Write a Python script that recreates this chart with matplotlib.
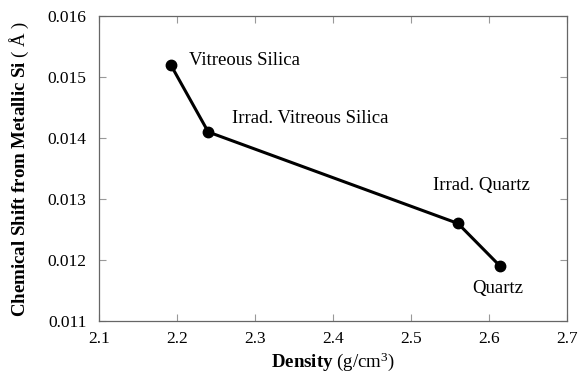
import matplotlib
matplotlib.use("Agg")
import matplotlib.pyplot as plt

density = [2.192, 2.24, 2.56, 2.614]
shift = [0.0152, 0.0141, 0.0126, 0.0119]
names = ["Vitreous Silica", "Irrad. Vitreous Silica", "Irrad. Quartz", "Quartz"]
label_offsets = [(13, 3), (17, 10), (-18, 27), (-20, -16)]
x_ticks = [2.1, 2.2, 2.3, 2.4, 2.5, 2.6, 2.7]
y_ticks = [0.011, 0.012, 0.013, 0.014, 0.015, 0.016]

plt.rcParams["font.family"] = ["Liberation Serif", "DejaVu Serif"]
plt.rcParams["mathtext.fontset"] = "custom"
plt.rcParams["mathtext.rm"] = "Liberation Serif"
plt.rcParams["mathtext.bf"] = "Liberation Serif:bold"
plt.rcParams["mathtext.it"] = "Liberation Serif:italic"

fig = plt.figure(figsize=(5.78, 3.75), dpi=100)
ax = fig.add_axes([0.1713, 0.144, 0.81, 0.813])

ax.plot(density, shift, color="black", lw=2.2, marker="o", ms=7.5, zorder=3)

for x, y, name, off in zip(density, shift, names, label_offsets):
    ax.annotate(name, (x, y), xytext=off, textcoords="offset points",
                ha="left", va="center", fontsize=13.5)

ax.set_xlim(x_ticks[0], x_ticks[-1])
ax.set_ylim(y_ticks[0], y_ticks[-1])
ax.set_xticks(x_ticks)
ax.set_yticks(y_ticks)
ax.set_xticklabels([f"{t:.1f}" for t in x_ticks])
ax.set_yticklabels([f"{t:.3f}" for t in y_ticks])

ax.tick_params(direction="in", top=True, right=True, length=5, width=0.8,
               color="#999999", labelsize=12.5)
ax.tick_params(axis="y", pad=9)
ax.tick_params(axis="x", pad=7)
for s in ax.spines.values():
    s.set_color("#666666")
    s.set_linewidth(0.9)

ax.set_xlabel(r"$\mathbf{Density}\ \mathrm{(g/cm^3)}$", fontsize=13.6, labelpad=3)
ax.set_ylabel(r"$\mathbf{Chemical\ Shift\ from\ Metallic\ Si}\ \mathrm{(\ \AA\ )}$",
              fontsize=13.6, labelpad=12)

fig.savefig("out.png", dpi=100)
